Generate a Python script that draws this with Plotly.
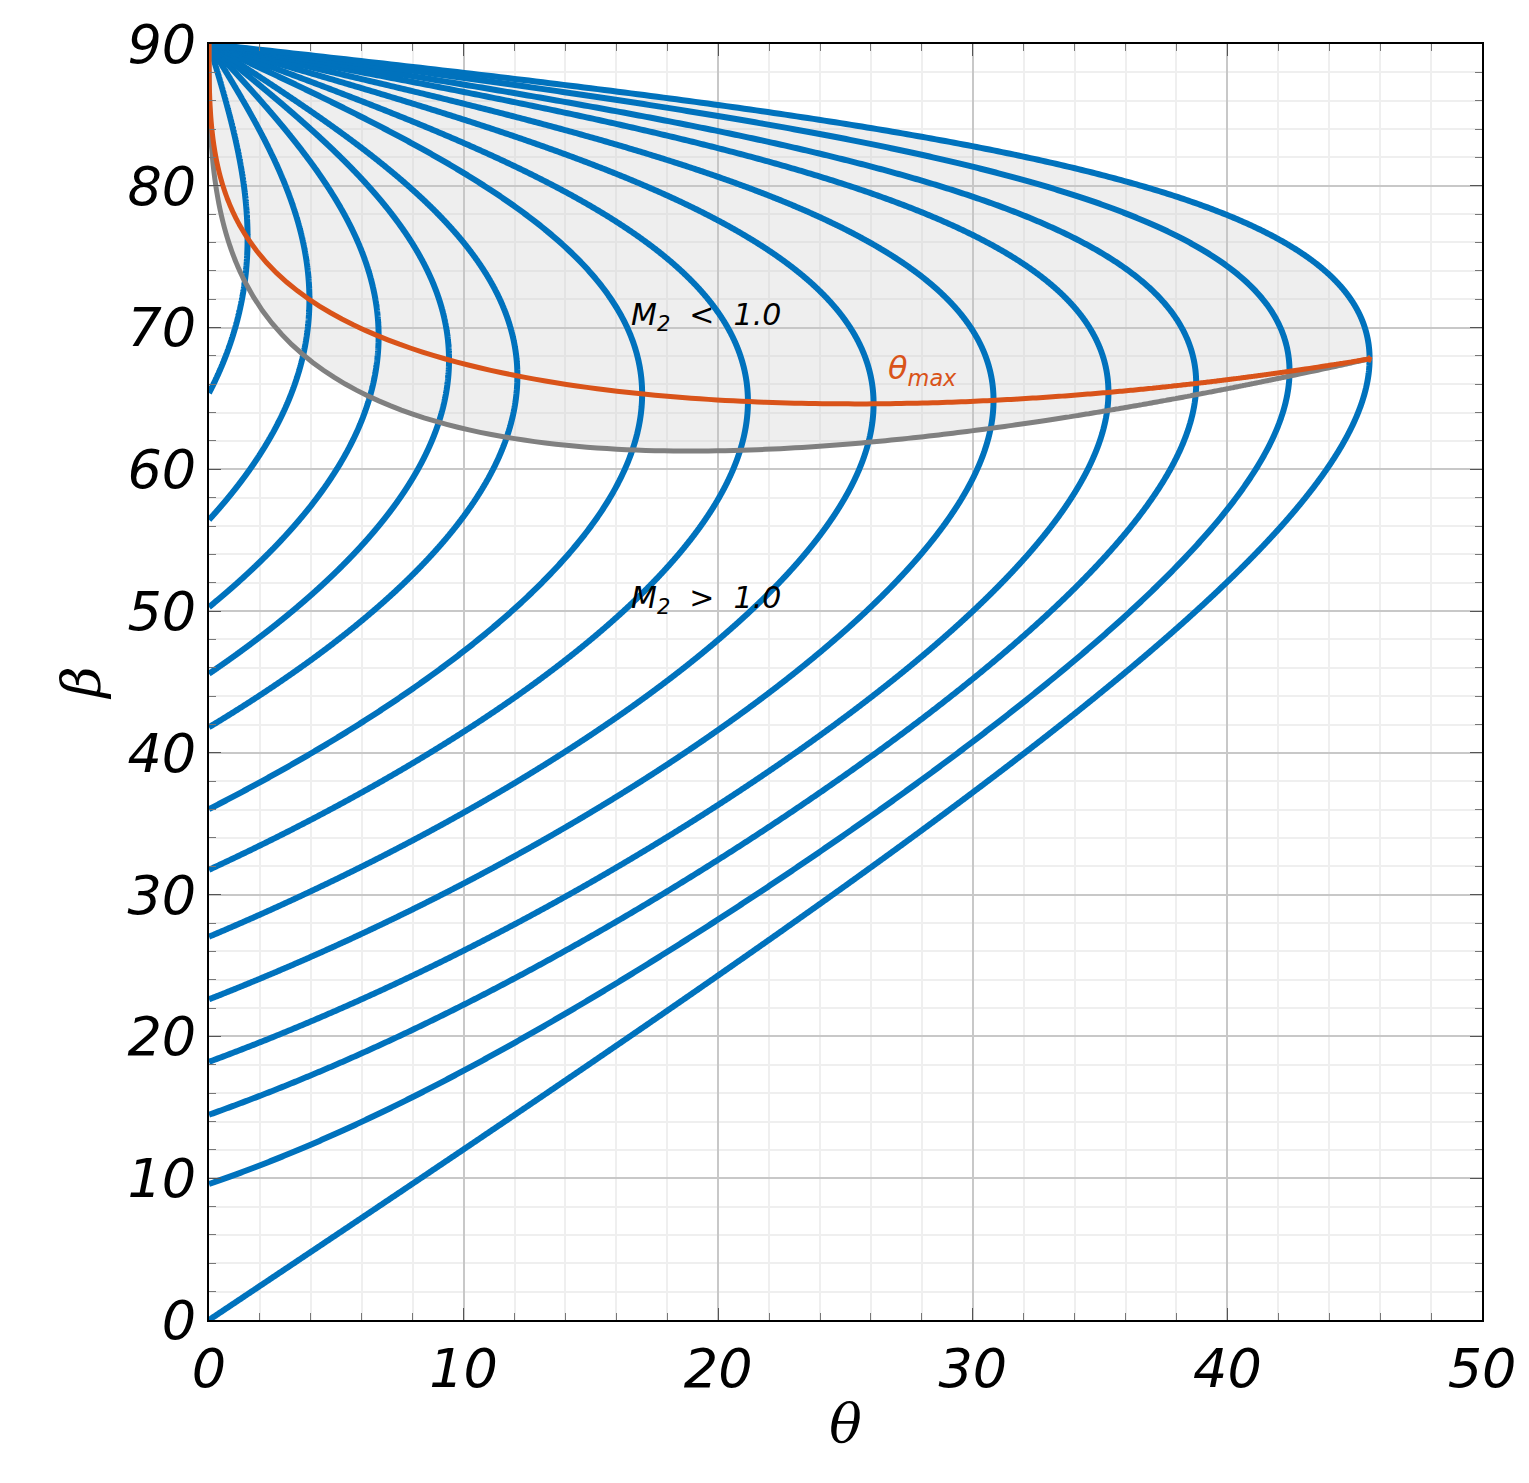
import numpy as np
import plotly.graph_objects as go

gamma = 1.4
mach_numbers = [1.1, 1.2, 1.3, 1.4, 1.5, 1.7, 1.9, 2.2, 2.6, 3.2, 4.0, 6.0, 1e4]
x_ticks = [0, 10, 20, 30, 40, 50]
y_ticks = [0, 10, 20, 30, 40, 50, 60, 70, 80, 90]

def theta_of(M, b):
    return np.arctan(2/np.tan(b)*(M**2*np.sin(b)**2-1)/(M**2*(gamma+np.cos(2*b))+2))

def m2_of(M, b):
    mn1 = M*np.sin(b)
    mn2 = np.sqrt((1+0.5*(gamma-1)*mn1**2)/(gamma*mn1**2-0.5*(gamma-1)))
    return mn2/np.sin(b-theta_of(M, b))

fig = go.Figure()
blue = "#0072BD"
curves = {}
for M in mach_numbers:
    mu = np.arcsin(1/M)
    b = np.linspace(mu, np.pi/2, 1500)
    t = np.degrees(np.clip(theta_of(M, b), 0, None))
    curves[M] = (t, np.degrees(b))

Ms = np.concatenate([np.linspace(1.0005, 1.1, 60), np.linspace(1.1, 6, 300), np.geomspace(6, 1e4, 200)])
tmax_t, tmax_b, son_t, son_b = [], [], [], []
for M in Ms:
    b = np.linspace(np.arcsin(1/M)+1e-6, np.pi/2-1e-6, 20000)
    th = theta_of(M, b)
    i = np.argmax(th)
    tmax_t.append(np.degrees(th[i])); tmax_b.append(np.degrees(b[i]))
    m2 = m2_of(M, b[:i+1])
    j = np.argmin(np.abs(m2-1))
    son_t.append(np.degrees(th[j])); son_b.append(np.degrees(b[j]))
son_t = [0]+son_t; son_b = [90]+son_b
tmax_t = [0]+tmax_t; tmax_b = [90]+tmax_b

ti, bi = curves[mach_numbers[-1]]
k = np.argmax(ti)
fx = list(son_t)+list(ti[k:])
fy = list(son_b)+list(bi[k:])
fig.add_trace(go.Scatter(x=fx, y=fy, fill="toself", fillcolor="rgba(200,200,200,0.3)",
                         line=dict(width=0), mode="lines", hoverinfo="skip"))

for M in mach_numbers:
    t, b = curves[M]
    fig.add_trace(go.Scatter(x=t, y=b, mode="lines", line=dict(color=blue, width=6, simplify=False)))
fig.add_trace(go.Scatter(x=son_t, y=son_b, mode="lines", line=dict(color="#808080", width=5, simplify=False)))
fig.add_trace(go.Scatter(x=tmax_t, y=tmax_b, mode="lines", line=dict(color="#D95319", width=5, simplify=False)))

fnt = dict(family="DejaVu Sans", size=30, color="black")
fig.add_annotation(x=16.5, y=70.8, text="<i>M<sub>2</sub>  <  1.0</i>", showarrow=False, xanchor="left", font=fnt)
fig.add_annotation(x=16.5, y=50.8, text="<i>M<sub>2</sub>  >  1.0</i>", showarrow=False, xanchor="left", font=fnt)
fig.add_annotation(x=26.6, y=67.0, text="<i>θ<sub>max</sub></i>", showarrow=False, xanchor="left",
                   font=dict(family="DejaVu Sans", size=32, color="#D95319"))

ax = dict(showline=True, linecolor="black", linewidth=2, mirror="ticks", ticks="inside", ticklen=12,
          tickcolor="#555", gridcolor="#c8c8c8", gridwidth=1.5, zeroline=False, ticklabeloverflow="allow",
          tickfont=dict(family="DejaVu Sans", size=54, color="black"),
          minor=dict(dtick=2, showgrid=True, gridcolor="#efefef", ticks="inside", ticklen=7, tickcolor="#777"))
fig.update_xaxes(range=[0, 50], tickmode="array", tickvals=x_ticks,
                 ticktext=[f"<i>{v}</i>" for v in x_ticks], **ax,
                 title=dict(text="<i>θ</i>", font=dict(family="DejaVu Serif", size=54, color="black"), standoff=5))
fig.update_yaxes(range=[0, 90], tickmode="array", tickvals=y_ticks,
                 ticktext=[f"<i>{v}</i>" for v in y_ticks], **ax,
                 title=dict(text="<i>β</i>", font=dict(family="DejaVu Serif", size=54, color="black"), standoff=10))
fig.update_layout(width=1529, height=1483, showlegend=False, plot_bgcolor="white", paper_bgcolor="white",
                  margin=dict(l=201, r=55, t=36, b=171, autoexpand=False))
fig.write_html("out.html")
